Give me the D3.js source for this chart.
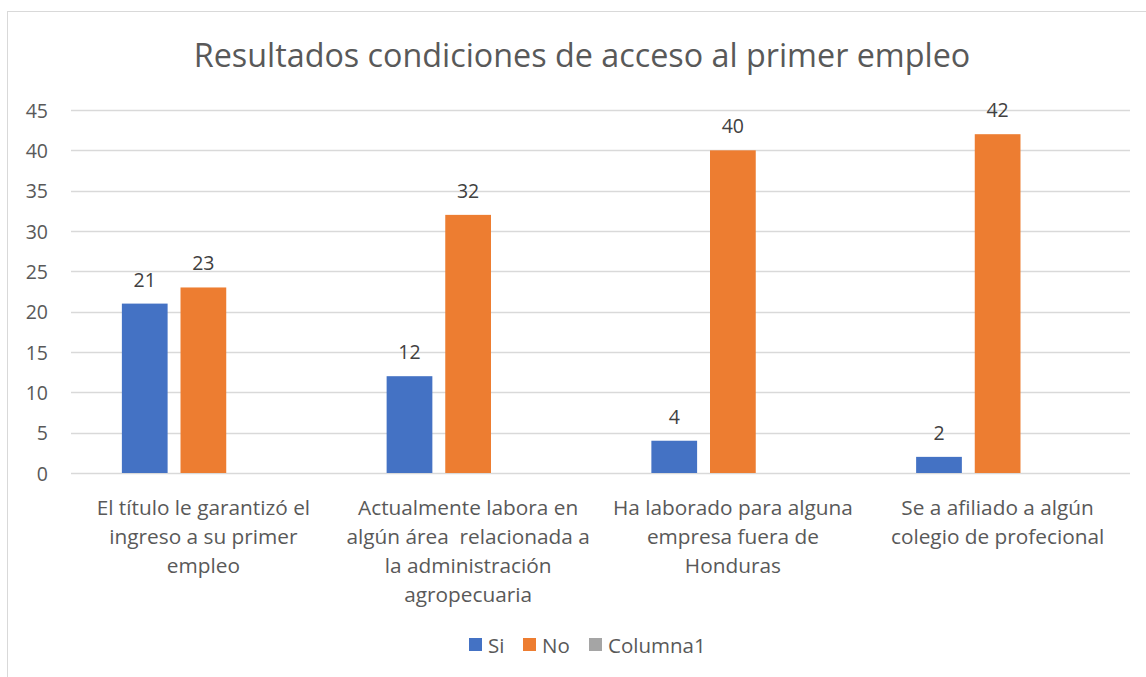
<!DOCTYPE html>
<html lang="en">
<head>
<meta charset="utf-8">
<title>Resultados condiciones de acceso al primer empleo</title>
<script src="https://cdn.jsdelivr.net/npm/d3@7"></script>
<style>
    body { margin: 0; background: #fff; }
    svg text { font-family: "Open Sans", Lato, sans-serif; }
</style>
</head>
<body>
<svg id="chart" width="1146" height="677"></svg>
<script>
    // data
    const categories = [
        ["El título le garantizó el", "ingreso a su primer", "empleo"],
        ["Actualmente labora en", "algún área  relacionada a", "la administración", "agropecuaria"],
        ["Ha laborado para alguna", "empresa fuera de", "Honduras"],
        ["Se a afiliado a algún", "colegio de profecional"]
    ]
    const seriesNames = ["Si", "No", "Columna1"]
    const si = [21, 12, 4, 2]
    const no = [23, 32, 40, 42]
    const columna1 = [null, null, null, null]
    const yTicks = [0, 5, 10, 15, 20, 25, 30, 35, 40, 45]
    const colors = ["#4472C4", "#ED7D31", "#A5A5A5"]

    const svg = d3.select("#chart")
    const W = 1146, H = 677

    // outer chart border
    svg.append("rect")
        .attr("x", 7.5).attr("y", 11.5)
        .attr("width", W + 10).attr("height", H + 10)
        .attr("fill", "#fff").attr("stroke", "#d9d9d9")

    svg.append("text")
        .attr("x", 582).attr("y", 67)
        .attr("text-anchor", "middle")
        .attr("font-size", 32.3)
        .attr("fill", "#595959")
        .text("Resultados condiciones de acceso al primer empleo")

    const plotLeft = 71, plotRight = 1130, plotTop = 110, plotBottom = 473

    const x0 = d3.scaleBand().domain(d3.range(categories.length)).range([plotLeft, plotRight])
    const x1 = d3.scaleBand().domain(seriesNames).range([0, 163]).paddingInner(0.22)
    const y = d3.scaleLinear().domain([0, 45]).range([plotBottom, plotTop])

    // gridlines + tick labels
    const grid = svg.append("g")
    grid.selectAll("line").data(yTicks).join("line")
        .attr("x1", plotLeft).attr("x2", plotRight)
        .attr("y1", d => Math.round(y(d)) + 0.5).attr("y2", d => Math.round(y(d)) + 0.5)
        .attr("stroke", "#d9d9d9").attr("stroke-width", 1.3)
    grid.selectAll("text").data(yTicks).join("text")
        .attr("x", 48).attr("y", d => y(d) + 7.5)
        .attr("text-anchor", "end")
        .attr("font-size", 19.5)
        .attr("fill", "#595959")
        .text(d => d)

    const series = [si, no, columna1]
    const groupOffset = (x0.bandwidth() - 163) / 2

    series.forEach((vals, s) => {
        const g = svg.append("g")
        const pts = vals.map((v, i) => ({ i, v })).filter(d => d.v !== null)
        g.selectAll("rect").data(pts).join("rect")
            .attr("x", d => x0(d.i) + groupOffset + x1(seriesNames[s]))
            .attr("width", x1.bandwidth())
            .attr("y", d => y(d.v))
            .attr("height", d => y(0) - y(d.v))
            .attr("fill", colors[s])
        g.selectAll("text").data(pts).join("text")
            .attr("x", d => x0(d.i) + groupOffset + x1(seriesNames[s]) + x1.bandwidth() / 2)
            .attr("y", d => y(d.v) - 17)
            .attr("text-anchor", "middle")
            .attr("font-size", 19.5)
            .attr("fill", "#404040")
            .text(d => d.v)
    })

    // category labels
    const cat = svg.append("g")
    categories.forEach((lines, i) => {
        const t = cat.append("text")
            .attr("text-anchor", "middle")
            .attr("font-size", 20.8)
            .attr("fill", "#595959")
        lines.forEach((ln, k) => {
            t.append("tspan")
                .attr("x", x0(i) + x0.bandwidth() / 2)
                .attr("y", 515 + k * 29)
                .attr("xml:space", "preserve")
                .text(ln)
        })
    })

    // legend
    const legendX = [469, 523, 589]
    const legend = svg.append("g")
    seriesNames.forEach((n, i) => {
        legend.append("rect")
            .attr("x", legendX[i]).attr("y", 638)
            .attr("width", 13).attr("height", 13)
            .attr("fill", colors[i])
        legend.append("text")
            .attr("x", legendX[i] + 19).attr("y", 653)
            .attr("font-size", 20.5)
            .attr("fill", "#595959")
            .text(n)
    })
</script>
</body>
</html>
